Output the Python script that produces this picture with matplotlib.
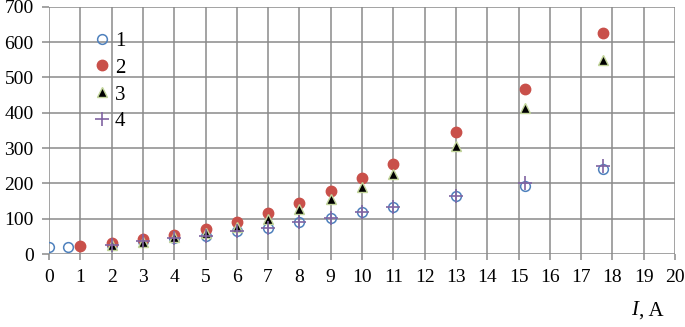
import matplotlib
matplotlib.use("Agg")
import matplotlib.pyplot as plt

# current values, A
I1 = [0, 0.6, 2, 3, 4, 5, 6, 7, 8, 9, 10, 11, 13, 15.2, 17.7]
y1 = [20, 20, 27, 37, 45, 50, 64, 75, 92, 102, 118, 132, 165, 194, 240]

I2 = [1, 2, 3, 4, 5, 6, 7, 8, 9, 10, 11, 13, 15.2, 17.7]
y2 = [22, 30, 42, 54, 71, 92, 116, 146, 180, 216, 256, 346, 467, 626]

I3 = [2, 3, 4, 5, 6, 7, 8, 9, 10, 11, 13, 15.2, 17.7]
y3 = [25, 33, 47, 59, 78, 100, 128, 156, 190, 227, 306, 413, 549]

I4 = [2, 3, 4, 5, 6, 7, 8, 9, 10, 11, 13, 15.2, 17.7]
y4 = [27, 37, 45, 50, 64, 75, 92, 102, 118, 132, 165, 200, 248]

labels = ["1", "2", "3", "4"]

plt.rcParams['font.family'] = ['Liberation Serif', 'DejaVu Serif']

fig = plt.figure(figsize=(6.85, 3.27), dpi=100)
ax = fig.add_axes([0.0715, 0.223, 0.914, 0.756])

grid_c = "#8a8a8a"
ax.plot(I1, y1, 'o', ms=7, mfc='none', mec='#4F81BD', mew=1.1, label=labels[0], zorder=3)
ax.plot(I2, y2, 'o', ms=7.5, mfc='#C9504A', mec='#C9504A', label=labels[1], zorder=3)
ax.plot(I3, y3, '^', ms=7, mfc='black', mec='#C3D69B', mew=1.0, label=labels[2], zorder=4)
ax.plot(I4, y4, '+', ms=10, mec='#8064A2', mew=1.2, label=labels[3], zorder=5)

ax.set_xlim(0, 20)
ax.set_ylim(0, 700)
ax.set_xticks(range(0, 21))
ax.set_yticks(range(0, 701, 100))
ax.grid(True, color=grid_c, lw=1.1)
ax.set_axisbelow(True)
for s in ax.spines.values():
    s.set_visible(False)
ax.tick_params(axis='both', direction='out', width=1.1, color=grid_c, labelsize=14)
ax.tick_params(axis='y', length=5, pad=6)
ax.tick_params(axis='x', length=4, pad=7)

leg = ax.legend(loc='upper left', bbox_to_anchor=(0.062, 0.935), frameon=False,
                fontsize=15, handlelength=0.6, handletextpad=0.3, labelspacing=0.35,
                borderaxespad=0)

# axis title "I, A" at lower right
fig.text(0.922, 0.02, "I", fontsize=15, style='italic', ha='left', va='bottom')
fig.text(0.933, 0.02, ", A", fontsize=15, ha='left', va='bottom')

fig.savefig("out.png", dpi=100)
